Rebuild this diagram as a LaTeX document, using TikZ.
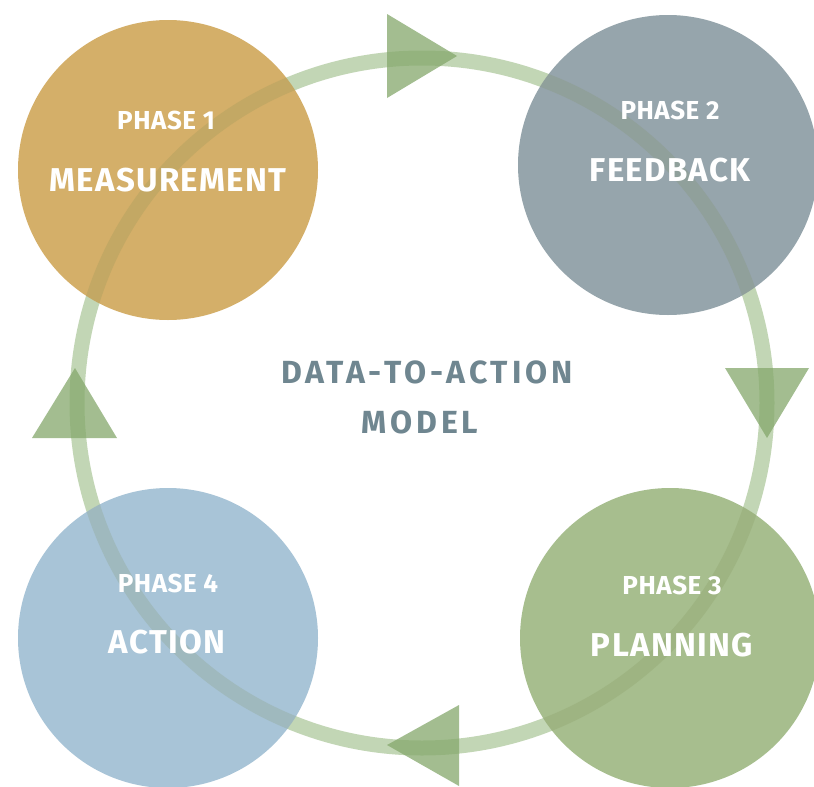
\documentclass[tikz,border=0pt]{standalone}
\usepackage{fontspec}
\setmainfont{Fira Sans}
\definecolor{ringc}{HTML}{C2D6B5}
\definecolor{ringdark}{HTML}{7A8A50}
\definecolor{arrowc}{HTML}{85A86C}
\definecolor{goldc}{HTML}{D4AF69}
\definecolor{grayc}{HTML}{96A5AC}
\definecolor{greenc}{HTML}{A7BE8E}
\definecolor{bluec}{HTML}{A8C4D7}
\definecolor{titlec}{HTML}{6F8690}
\begin{document}
\begin{tikzpicture}[x=1pt,y=-1pt,
  phase/.style={circle, minimum size=300pt, inner sep=0pt, draw=none},
  small/.style={text=white, font=\bfseries\fontsize{26}{28}\selectfont\addfontfeatures{LetterSpace=2}, inner sep=0pt},
  big/.style={text=white, font=\bfseries\fontsize{33}{36}\selectfont\addfontfeatures{LetterSpace=4}, inner sep=0pt},
  title/.style={text=titlec, font=\bfseries\fontsize{32}{34}\selectfont\addfontfeatures{LetterSpace=12}, inner sep=0pt},
  tri/.style={fill=arrowc, fill opacity=0.75}]
\useasboundingbox (0,0) rectangle (814,787);
\fill[white] (0,0) rectangle (814,787);
\coordinate (c) at (422,403);
% ring under circles
\draw[ringc, line width=15pt] (c) circle (345pt);
% circles
\node[phase, fill=goldc]  (p1) at (168,170) {};
\node[phase, fill=grayc]  (p2) at (668,165) {};
\node[phase, fill=greenc] (p3) at (670,638) {};
\node[phase, fill=bluec]  (p4) at (168,638) {};
% ring showing through circles
\begin{scope}
  \clip (168,170) circle (150pt) (668,165) circle (150pt) (670,638) circle (150pt) (168,638) circle (150pt);
  \draw[ringdark, line width=15pt, opacity=0.18] (c) circle (345pt);
\end{scope}
% arrowheads
\fill[tri] (387,14) -- (457,56) -- (387,98) -- cycle;
\fill[tri] (725,368) -- (767,438) -- (809,368) -- cycle;
\fill[tri] (459,705) -- (387,745) -- (459,786) -- cycle;
\fill[tri] (32,438) -- (75,368) -- (117,438) -- cycle;
% texts
\node[small] (p1a) at (166,120) {PHASE 1};
\node[big]   (p1b) at (168,180) {MEASUREMENT};
\node[small] (p2a) at (670,110) {PHASE 2};
\node[big]   (p2b) at (670,170) {FEEDBACK};
\node[small] (p3a) at (672,585) {PHASE 3};
\node[big]   (p3b) at (672,645) {PLANNING};
\node[small] (p4a) at (168,583) {PHASE 4};
\node[big]   (p4b) at (167,642) {ACTION};
\node[title] (t1) at (427,372) {DATA-TO-ACTION};
\node[title] (t2) at (420,422) {MODEL};
\end{tikzpicture}
\end{document}
